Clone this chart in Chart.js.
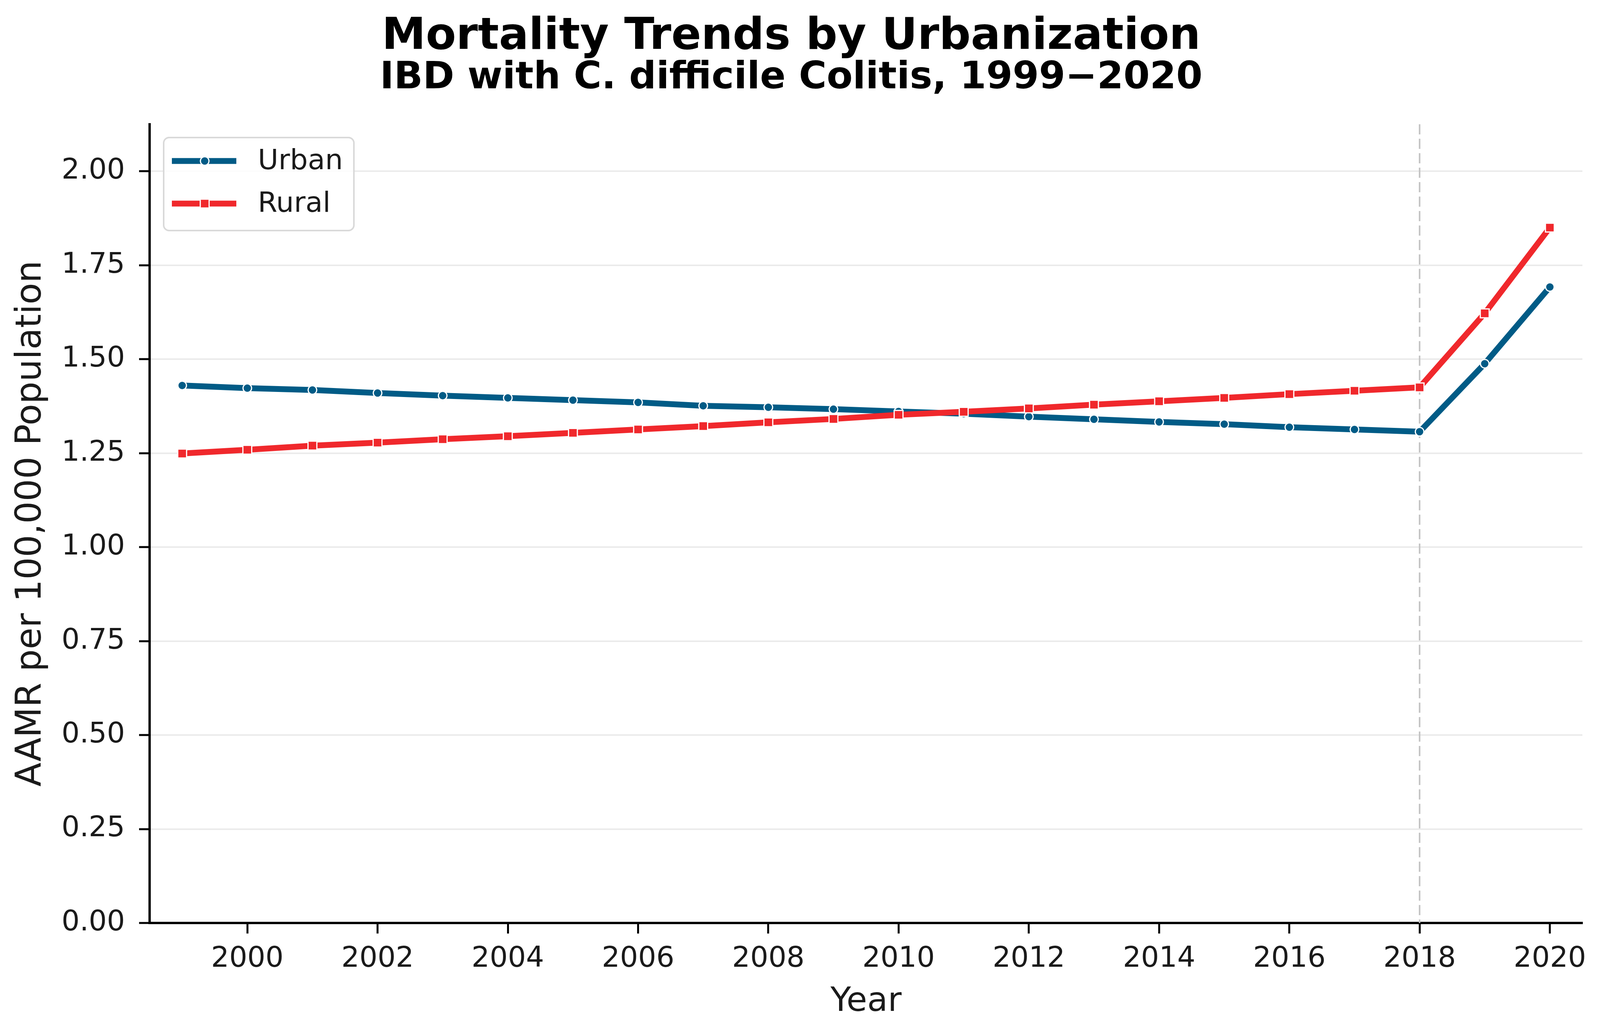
<!DOCTYPE html>
<html>
<head>
<meta charset="utf-8">
<script src="https://cdn.jsdelivr.net/npm/chart.js@4/dist/chart.umd.min.js"></script>
<style>
html,body{margin:0;padding:0;background:#fff;}
canvas{display:block;}
</style>
</head>
<body>
<canvas id="c" width="4102" height="2641" style="width:4102px;height:2641px"></canvas>
<script>
// ---- data ----
const years = [1999,2000,2001,2002,2003,2004,2005,2006,2007,2008,2009,2010,2011,2012,2013,2014,2015,2016,2017,2018,2019,2020];
const urban = [1.430,1.423,1.418,1.410,1.403,1.397,1.391,1.385,1.376,1.372,1.367,1.361,1.355,1.347,1.340,1.333,1.327,1.319,1.313,1.307,1.488,1.692];
const rural = [1.249,1.259,1.270,1.278,1.287,1.295,1.304,1.313,1.322,1.332,1.341,1.352,1.360,1.369,1.379,1.388,1.397,1.407,1.416,1.425,1.622,1.850];
const seriesNames = ['Urban','Rural'];
const xTicks = [2000,2002,2004,2006,2008,2010,2012,2014,2016,2018,2020];
const yTicks = [0,0.25,0.5,0.75,1.0,1.25,1.5,1.75,2.0];
const refYear = 2018;
const titleText = 'Mortality Trends by Urbanization';
const subtitleText = 'IBD with C. difficile Colitis, 1999\u22122020';
const xLabel = 'Year';
const yLabel = 'AAMR per 100,000 Population';

// ---- style ----
const URBAN_COLOR = '#005b86';
const RURAL_COLOR = '#f0282c';
const FONT = "'DejaVu Sans', sans-serif";

const refLinePlugin = {
  id: 'refLine',
  beforeDatasetsDraw(chart) {
    const {ctx, chartArea, scales} = chart;
    const x = scales.x.getPixelForValue(refYear);
    ctx.save();
    ctx.strokeStyle = '#c4c4c4';
    ctx.lineWidth = 4;
    ctx.setLineDash([26, 11]);
    ctx.beginPath();
    ctx.moveTo(x, chartArea.top);
    ctx.lineTo(x, chartArea.bottom);
    ctx.stroke();
    ctx.restore();
  }
};

const legendPlugin = {
  id: 'boxLegend',
  afterDatasetsDraw(chart) {
    const {ctx, chartArea} = chart;
    const bx = chartArea.left + 36, by = chartArea.top + 34, bw = 487, bh = 238;
    ctx.save();
    ctx.fillStyle = 'rgba(255,255,255,0.85)';
    ctx.strokeStyle = '#d9d9d9';
    ctx.lineWidth = 4;
    ctx.beginPath();
    ctx.roundRect(bx, by, bw, bh, 14);
    ctx.fill();
    ctx.stroke();
    const items = [
      {name: seriesNames[0], color: URBAN_COLOR, style: 'circle', r: 11},
      {name: seriesNames[1], color: RURAL_COLOR, style: 'rect', r: 16}
    ];
    items.forEach((it, i) => {
      const y = by + 60 + i * 109;
      ctx.strokeStyle = it.color;
      ctx.lineWidth = 15;
      ctx.lineCap = 'butt';
      ctx.beginPath();
      ctx.moveTo(bx + 21, y);
      ctx.lineTo(bx + 186, y);
      ctx.stroke();
      ctx.fillStyle = it.color;
      ctx.strokeStyle = '#ffffff';
      ctx.lineWidth = 3;
      Chart.helpers.drawPoint(ctx, {pointStyle: it.style, radius: it.r, borderWidth: 3, rotation: 0}, bx + 105, y);
      ctx.fillStyle = '#1a1a1a';
      ctx.font = "72px " + FONT;
      ctx.textBaseline = 'middle';
      ctx.textAlign = 'left';
      ctx.fillText(it.name, bx + 241, y + 2);
    });
    ctx.restore();
  }
};

Chart.defaults.font.family = FONT;
Chart.defaults.color = '#1a1a1a';

new Chart(document.getElementById('c'), {
  type: 'line',
  data: {
    datasets: [
      {
        label: seriesNames[0],
        data: years.map((yr, i) => ({x: yr, y: urban[i]})),
        borderColor: URBAN_COLOR,
        backgroundColor: URBAN_COLOR,
        borderWidth: 15,
        borderJoinStyle: 'round',
        pointStyle: 'circle',
        pointRadius: 11,
        pointBorderWidth: 3,
        pointBorderColor: '#ffffff',
        pointBackgroundColor: URBAN_COLOR,
        tension: 0,
        order: 1
      },
      {
        label: seriesNames[1],
        data: years.map((yr, i) => ({x: yr, y: rural[i]})),
        borderColor: RURAL_COLOR,
        backgroundColor: RURAL_COLOR,
        borderWidth: 15,
        borderJoinStyle: 'round',
        pointStyle: 'rect',
        pointRadius: 16,
        pointBorderWidth: 3,
        pointBorderColor: '#ffffff',
        pointBackgroundColor: RURAL_COLOR,
        tension: 0,
        order: 0
      }
    ]
  },
  options: {
    responsive: false,
    devicePixelRatio: 1,
    animation: false,
    events: [],
    layout: {padding: {left: 0, right: 51, top: 0, bottom: 0}},
    plugins: {
      legend: {display: false},
      tooltip: {enabled: false},
      title: {
        display: true,
        text: titleText,
        color: '#000',
        font: {size: 113, weight: 'bold', family: FONT, lineHeight: 0.9},
        padding: {top: 45, bottom: 0}
      },
      subtitle: {
        display: true,
        text: subtitleText,
        color: '#000',
        font: {size: 97, weight: 'bold', family: FONT, lineHeight: 0.9},
        padding: {top: 10, bottom: 74}
      }
    },
    scales: {
      x: {
        type: 'linear',
        min: 1998.5,
        max: 2020.5,
        afterBuildTicks: (s) => { s.ticks = xTicks.map(v => ({value: v})); },
        afterFit: (s) => { s.height = 279; },
        ticks: {
          callback: (v) => String(v),
          font: {size: 73, family: FONT, lineHeight: 1.0},
          padding: 30,
          color: '#1a1a1a',
          maxRotation: 0,
          autoSkip: false
        },
        grid: {drawOnChartArea: false, drawTicks: true, tickLength: 27, tickColor: '#000', tickWidth: 5},
        border: {display: true, color: '#000', width: 6},
        title: {
          display: true,
          text: xLabel,
          color: '#1a1a1a',
          font: {size: 86, family: FONT, lineHeight: 1.0},
          padding: {top: 0, bottom: 33}
        }
      },
      y: {
        type: 'linear',
        min: 0,
        max: 2.125,
        afterBuildTicks: (s) => { s.ticks = yTicks.map(v => ({value: v})); },
        afterFit: (s) => { s.width = 383; },
        ticks: {
          callback: (v) => Number(v).toFixed(2),
          font: {size: 73, family: FONT, lineHeight: 1.0},
          padding: 36,
          color: '#1a1a1a',
          autoSkip: false
        },
        grid: {
          color: (c) => (c.tick && c.tick.value === 0) ? 'rgba(0,0,0,0)' : '#ebebeb',
          lineWidth: 4,
          drawTicks: true,
          tickLength: 27,
          tickColor: '#000',
          tickWidth: 5
        },
        border: {display: true, color: '#000', width: 6},
        title: {
          display: true,
          text: yLabel,
          color: '#1a1a1a',
          font: {size: 90, family: FONT, lineHeight: 1.0},
          padding: {top: 36, bottom: 0}
        }
      }
    }
  },
  plugins: [refLinePlugin, legendPlugin]
});
</script>
</body>
</html>
